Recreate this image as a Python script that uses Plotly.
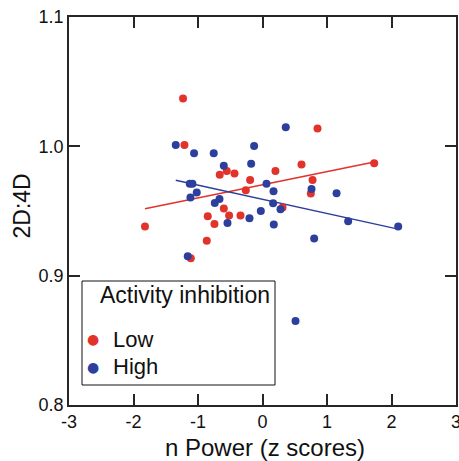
import numpy as np
import plotly.graph_objects as go

# Low activity inhibition group
low_x = [-1.232, -1.21, -0.554, -0.663, -0.434, 0.201, -0.192, -0.259, -0.600, -0.849,
         -0.518, -0.341, -0.745, -1.822, -0.864, -1.112, 0.853, 0.605, 1.732, 0.776,
         0.749, 0.31]
low_y = [1.037, 1.001, 0.981, 0.978, 0.979, 0.981, 0.974, 0.966, 0.952, 0.946,
         0.9465, 0.9465, 0.940, 0.938, 0.927, 0.9135, 1.0137, 0.986, 0.987, 0.974,
         0.9635, 0.9527]

# High activity inhibition group
high_x = [-1.345, -1.061, -0.756, -0.130, -0.600, -0.176, 0.062, 0.171, -1.128, -1.086,
          -1.019, -1.117, -0.667, -0.740, -0.543, -0.202, -0.026, 0.165, 0.279, 0.175,
          -1.159, 0.361, 0.760, 1.148, 1.328, 2.104, 0.801, 0.512]
high_y = [1.001, 0.9946, 0.9946, 1.0002, 0.985, 0.9866, 0.971, 0.9653, 0.971, 0.971,
          0.9643, 0.9604, 0.9593, 0.9562, 0.9408, 0.9444, 0.950, 0.956, 0.9513, 0.9395,
          0.9151, 1.0147, 0.967, 0.9637, 0.942, 0.938, 0.9287, 0.865]

group_names = ["Low", "High"]
legend_title = "Activity inhibition"
x_title = "n Power (z scores)"
y_title = "2D:4D"
x_ticks = [-3, -2, -1, 0, 1, 2, 3]
y_ticks = [0.8, 0.9, 1.0, 1.1]
x_range = [-3, 3]
y_range = [0.8, 1.1]

RED = "#e2332b"
BLUE = "#2d3f9c"
FONT = "Arial, Liberation Sans, Helvetica, sans-serif"
AX = "#262626"

W, H = 459, 461
ML, MR, MT, MB = 69, 3, 17, 56
PW, PH = W - ML - MR, H - MT - MB


def px2paper(px, py):
    return (px - ML) / PW, (H - MB - py) / PH


fig = go.Figure()

for xs, ys, name, col in [(low_x, low_y, group_names[0], RED),
                          (high_x, high_y, group_names[1], BLUE)]:
    xa = np.array(xs)
    ya = np.array(ys)
    slope, icpt = np.polyfit(xa, ya, 1)
    lx = [float(xa.min()), float(xa.max())]
    ly = [float(slope * v + icpt) for v in lx]
    fig.add_trace(go.Scatter(x=lx, y=ly, mode="lines",
                             line=dict(color=col, width=1.5), showlegend=False))

for xs, ys, name, col in [(low_x, low_y, group_names[0], RED),
                          (high_x, high_y, group_names[1], BLUE)]:
    fig.add_trace(go.Scatter(x=xs, y=ys, mode="markers", name=name,
                             marker=dict(color=col, size=8), showlegend=False))

axis_common = dict(showline=True, linecolor=AX, linewidth=1.5, mirror="ticks",
                   ticks="inside", ticklen=11, tickwidth=1.5, tickcolor=AX,
                   showgrid=False, zeroline=False,
                   tickfont=dict(family=FONT, size=18, color="#111"))

# legend frame, legend title, legend keys and axis titles
bx0, by0 = px2paper(82, 385)
bx1, by1 = px2paper(275, 281)
tx, ty = px2paper(98, 295)
xtx, xty = px2paper(265, 447)
ytx, yty = px2paper(21.5, 206)

annotations = [
    dict(text=legend_title, xref="paper", yref="paper", x=tx, y=ty,
         xanchor="left", yanchor="middle", showarrow=False,
         font=dict(size=23, family=FONT, color="#111")),
    dict(text=x_title, xref="paper", yref="paper", x=xtx, y=xty,
         xanchor="center", yanchor="middle", showarrow=False,
         font=dict(size=24, family=FONT, color="#111")),
    dict(text=y_title, xref="paper", yref="paper", x=ytx, y=yty, textangle=-90,
         xanchor="center", yanchor="middle", showarrow=False,
         font=dict(size=23, family=FONT, color="#111")),
]
for name, col, ky in [(group_names[0], RED, 339), (group_names[1], BLUE, 366.7)]:
    mx, my = px2paper(92.7, ky)
    nx, ny = px2paper(111, ky)
    annotations.append(dict(text="\u25CF", xref="paper", yref="paper", x=mx, y=my,
                            xanchor="center", yanchor="middle", showarrow=False,
                            font=dict(size=14, family="DejaVu Sans", color=col)))
    annotations.append(dict(text=name, xref="paper", yref="paper", x=nx, y=ny,
                            xanchor="left", yanchor="middle", showarrow=False,
                            font=dict(size=22, family=FONT, color="#111")))

fig.update_layout(
    width=W, height=H,
    margin=dict(l=ML, r=MR, t=MT, b=MB, autoexpand=False),
    plot_bgcolor="white",
    font=dict(family=FONT, color="#111"),
    showlegend=False,
    xaxis=dict(range=x_range, tickvals=x_ticks, ticktext=[str(v) for v in x_ticks],
               ticklabeloverflow="allow", **axis_common),
    yaxis=dict(range=y_range, tickvals=y_ticks, ticktext=[f"{v:.1f}" for v in y_ticks],
               **axis_common),
    shapes=[dict(type="rect", xref="paper", yref="paper", x0=bx0, x1=bx1, y0=by0, y1=by1,
                 line=dict(color="#111", width=1), fillcolor="white", layer="below")],
    annotations=annotations,
)

fig.write_html("out.html", config={"displayModeBar": False},
               post_script="document.body.style.margin='0';document.body.style.overflow='hidden';")
